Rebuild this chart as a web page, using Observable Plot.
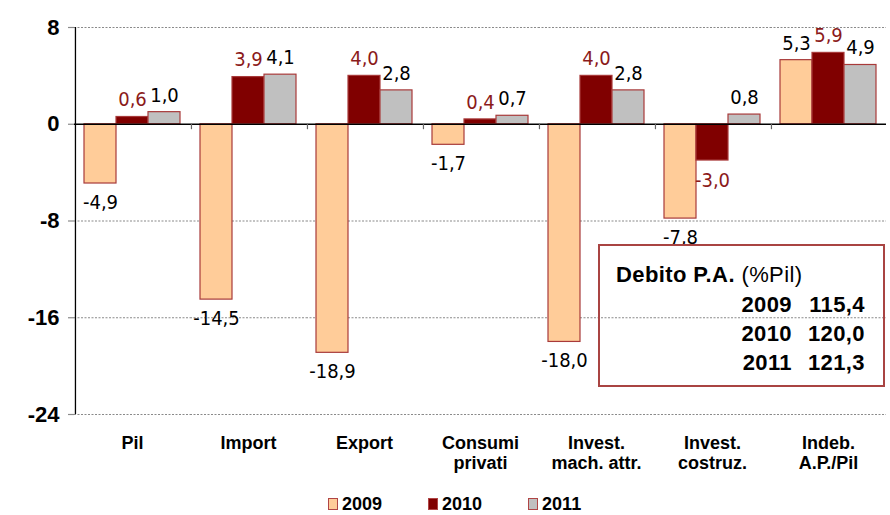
<!DOCTYPE html>
<html>
<head>
<meta charset="utf-8">
<script src="https://cdn.jsdelivr.net/npm/d3@7"></script>
<script src="https://cdn.jsdelivr.net/npm/@observablehq/plot@0.6"></script>
<style>
  html, body { margin: 0; padding: 0; background: #fff; }
  #wrap { position: relative; width: 890px; height: 515px; font-family: "Liberation Sans", Arial, sans-serif; }
  #legend { display: flex; align-items: center; padding-left: 328px; height: 22px; gap: 46px; font-weight: bold; font-size: 18px; color: #000; }
  #legend .item { display: flex; align-items: center; }
  #legend .sw { width: 8px; height: 10px; border: 1.5px solid #B04545; margin-right: 4px; }
  #box { position: absolute; left: 598px; top: 244px; width: 283px; height: 139px; border: 2px solid #A94442; font-size: 22px; letter-spacing: 0.4px; color: #000; }
  #box .title { padding-left: 16px; padding-top: 14px; line-height: 30px; }
  #box .rows { display: grid; grid-template-columns: 192px 73px; font-weight: bold; line-height: 29px; }
  #box .rows span { text-align: right; }
</style>
</head>
<body>
<div id="wrap">
  <div id="chart"></div>
  <div id="legend"></div>
  <div id="box"></div>
</div>
<script>
// ---- data ----
const categories = ["Pil", "Import", "Export", "Consumi\nprivati", "Invest.\nmach. attr.", "Invest.\ncostruz.", "Indeb.\nA.P./Pil"];
const years = ["2009", "2010", "2011"];
const values2009 = [-4.9, -14.5, -18.9, -1.7, -18.0, -7.8, 5.3];
const values2010 = [0.6, 3.9, 4.0, 0.4, 4.0, -3.0, 5.9];
const values2011 = [1.0, 4.1, 2.8, 0.7, 2.8, 0.8, 4.9];
const yearColors = ["#FFCC99", "#800000", "#C0C0C0"];
const yTicks = [8, 0, -8, -16, -24];
const debtTitle = "Debito P.A.";
const debtUnit = "(%Pil)";
const debtYears = ["2009", "2010", "2011"];
const debtValues = [115.4, 120.0, 121.3];

// ---- build table ----
const series = [values2009, values2010, values2011];
const data = categories.flatMap((c, i) => years.map((y, j) => ({cat: c, year: y, value: series[j][i]})));
const fmt = v => v.toFixed(1).replace(".", ",");

// layout constants
const W = 890, H = 493, mL = 74, mR = 4, mT = 27, mB = 79;
const padOuter = 0.26;
const facetW = (W - mL - mR) / categories.length;
const step = facetW / (years.length + 2 * padOuter);
const edgeDx = -(step / 2 + padOuter * step); // from centre of first band to facet's left edge

const narrow = "'Liberation Sans Narrow', 'Arial Narrow', 'DejaVu Sans Condensed', sans-serif";
const labelRed = "#8B1A1A";

const pos = d => d.value >= 0;
const neg = d => d.value < 0;
const is2010 = d => d.year === "2010";

const chart = Plot.plot({
  width: W, height: H,
  marginLeft: mL, marginRight: mR, marginTop: mT, marginBottom: mB,
  style: {fontFamily: "'Liberation Sans', Arial, sans-serif", background: "white"},
  fx: {domain: categories, paddingInner: 0, paddingOuter: 0, axis: null},
  x: {domain: years, paddingInner: 0, paddingOuter: padOuter, axis: null},
  y: {domain: [-24, 8], axis: null},
  color: {domain: years, range: yearColors},
  marks: [
    Plot.gridY(yTicks.filter(t => t !== 0), {stroke: "#8a8a8a", strokeOpacity: 1, strokeWidth: 1.2, strokeDasharray: "2,1.5"}),
    Plot.axisY(yTicks, {anchor: "left", label: null, tickSize: 6, stroke: "#8a8a8a", strokeWidth: 1.2, fill: "black",
      fontSize: 22, fontWeight: "bold", tickPadding: 9, tickFormat: d => String(d)}),
    Plot.barY(data, {fx: "cat", x: "year", y1: 0, y2: "value", fill: "year", stroke: "#A83A3A", strokeWidth: 1.2}),
    Plot.ruleY([0], {stroke: "black", strokeWidth: 1.5}),
    // y-axis line on the first group's left edge
    Plot.ruleX([categories[0]], {fx: d => d, x: () => years[0], y1: 8, y2: -24, dx: edgeDx, stroke: "black", strokeWidth: 1.3}),
    // group separator ticks on the zero line
    Plot.ruleX(categories.slice(1), {fx: d => d, x: () => years[0], y1: 0, y2: -0.45, dx: edgeDx, stroke: "#666", strokeWidth: 1.2}),
    // value labels
    Plot.text(data.filter(d => pos(d) && !is2010(d)), {fx: "cat", x: "year", y: "value", text: d => fmt(d.value), dy: -17, fill: "black", fontSize: 20, fontFamily: narrow}),
    Plot.text(data.filter(d => neg(d) && !is2010(d)), {fx: "cat", x: "year", y: "value", text: d => fmt(d.value), dy: 19, fill: "black", fontSize: 20, fontFamily: narrow}),
    Plot.text(data.filter(d => pos(d) && is2010(d)), {fx: "cat", x: "year", y: "value", text: d => fmt(d.value), dy: -17, fill: labelRed, fontSize: 20, fontFamily: narrow}),
    Plot.text(data.filter(d => neg(d) && is2010(d)), {fx: "cat", x: "year", y: "value", text: d => fmt(d.value), dy: 20, fill: labelRed, fontSize: 20, fontFamily: narrow}),
    // category labels
    Plot.text(categories, {fx: d => d, frameAnchor: "bottom", text: d => d, dy: 21, lineAnchor: "top",
      fontSize: 18, fontWeight: "bold", lineHeight: 1.08, fill: "black"})
  ]
});
document.getElementById("chart").appendChild(chart);

// legend
const legend = document.getElementById("legend");
years.forEach((y, i) => {
  const item = document.createElement("div");
  item.className = "item";
  const sw = document.createElement("div");
  sw.className = "sw";
  sw.style.background = yearColors[i];
  const t = document.createElement("span");
  t.textContent = y;
  item.appendChild(sw); item.appendChild(t);
  legend.appendChild(item);
});

// debt box
const box = document.getElementById("box");
const title = document.createElement("div");
title.className = "title";
title.innerHTML = "<b></b> <span></span>";
title.querySelector("b").textContent = debtTitle;
title.querySelector("span").textContent = debtUnit;
box.appendChild(title);
const rows = document.createElement("div");
rows.className = "rows";
debtYears.forEach((y, i) => {
  const a = document.createElement("span"); a.textContent = y;
  const b = document.createElement("span"); b.textContent = fmt(debtValues[i]);
  rows.appendChild(a); rows.appendChild(b);
});
box.appendChild(rows);
</script>
</body>
</html>
